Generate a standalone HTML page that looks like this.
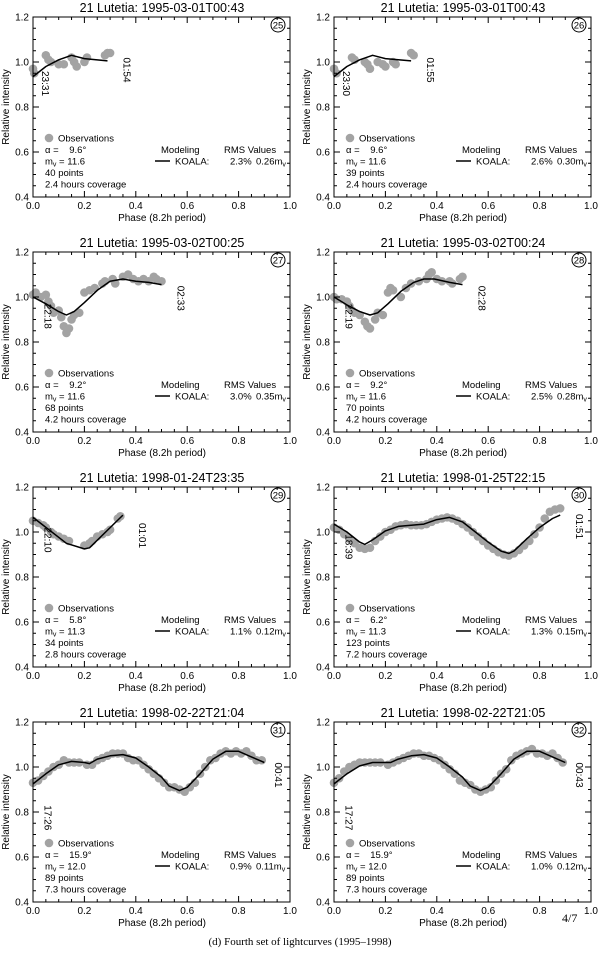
<!DOCTYPE html>
<html><head><meta charset="utf-8"><style>
html,body{margin:0;padding:0;background:#fff}
svg{display:block;font-family:"Liberation Sans",sans-serif}
text{white-space:pre}
</style></head><body>
<svg id="fig" width="600" height="955" viewBox="0 0 600 955" xmlns="http://www.w3.org/2000/svg">
<text x="562" y="922" font-size="12" font-family="Liberation Serif, serif">4/7</text>
<text x="300" y="945" font-size="11" text-anchor="middle" font-family="Liberation Serif, serif">(d) Fourth set of lightcurves (1995–1998)</text>
</svg>
<script>
const panelIds=[25,26,27,28,29,30,31,32];
const titles=["21 Lutetia: 1995-03-01T00:43","21 Lutetia: 1995-03-01T00:43","21 Lutetia: 1995-03-02T00:25","21 Lutetia: 1995-03-02T00:24","21 Lutetia: 1998-01-24T23:35","21 Lutetia: 1998-01-25T22:15","21 Lutetia: 1998-02-22T21:04","21 Lutetia: 1998-02-22T21:05"];
const alphas=["9.6","9.6","9.2","9.2","5.8","6.2","15.9","15.9"];
const mags=["11.6","11.6","11.6","11.6","11.3","11.3","12.0","12.0"];
const npoints=["40","39","68","70","34","123","89","89"];
const coverage=["2.4","2.4","4.2","4.2","2.8","7.2","7.3","7.3"];
const rmsPct=["2.3%","2.6%","3.0%","2.5%","1.1%","1.3%","0.9%","1.0%"];
const rmsMag=["0.26","0.30","0.35","0.28","0.12","0.15","0.11","0.12"];
const startTimes=["23:31","23:30","22:18","22:19","22:10","18:39","17:26","17:27"];
const endTimes=["01:54","01:55","02:33","02:28","01:01","01:51","00:41","00:43"];
const startLabelPhase=[0.02,0.02,0.03,0.03,0.03,0.03,0.03,0.03];
const startLabelTop=[0.96,0.96,0.97,0.97,1.02,0.99,0.83,0.83];
const endLabelPhase=[0.34,0.35,0.55,0.55,0.40,0.93,0.93,0.93];
const endLabelTop=[1.02,1.02,1.05,1.05,1.04,1.08,1.02,1.02];

const obsPhase=[
[0,0.005,0.05,0.06,0.07,0.10,0.12,0.15,0.16,0.17,0.20,0.21,0.28,0.29,0.30],
[0,0.01,0.07,0.08,0.12,0.13,0.14,0.17,0.19,0.20,0.23,0.24,0.30,0.31],
[0,0.01,0.03,0.05,0.06,0.07,0.08,0.10,0.11,0.12,0.13,0.14,0.15,0.16,0.18,0.20,0.22,0.24,0.27,0.28,0.31,0.32,0.35,0.37,0.39,0.41,0.43,0.45,0.47,0.48,0.50],
[0,0.01,0.03,0.05,0.06,0.07,0.08,0.10,0.12,0.13,0.14,0.16,0.17,0.19,0.21,0.22,0.23,0.26,0.28,0.30,0.33,0.36,0.37,0.38,0.40,0.42,0.45,0.46,0.49,0.50],
[0,0.02,0.04,0.05,0.07,0.08,0.10,0.12,0.14,0.20,0.22,0.23,0.25,0.27,0.29,0.30,0.33,0.34],
[0,0.02,0.04,0.06,0.08,0.10,0.12,0.14,0.16,0.18,0.20,0.22,0.24,0.26,0.28,0.30,0.32,0.34,0.36,0.38,0.40,0.42,0.44,0.46,0.48,0.50,0.52,0.54,0.56,0.58,0.60,0.62,0.64,0.66,0.68,0.70,0.72,0.74,0.76,0.78,0.80,0.82,0.84,0.86,0.88],
[0,0.02,0.04,0.06,0.08,0.10,0.12,0.14,0.16,0.18,0.21,0.23,0.25,0.27,0.29,0.31,0.33,0.35,0.37,0.39,0.41,0.43,0.45,0.47,0.49,0.51,0.53,0.55,0.57,0.59,0.61,0.63,0.65,0.67,0.69,0.71,0.73,0.75,0.77,0.79,0.81,0.83,0.85,0.87,0.89],
[0,0.02,0.04,0.06,0.08,0.10,0.12,0.14,0.16,0.18,0.21,0.23,0.25,0.27,0.29,0.31,0.33,0.35,0.37,0.39,0.41,0.43,0.45,0.47,0.49,0.51,0.53,0.55,0.57,0.59,0.61,0.63,0.65,0.67,0.69,0.71,0.73,0.75,0.77,0.79,0.81,0.83,0.85,0.87,0.89]
];
const obsValue=[
[0.97,0.95,1.03,1.01,1.00,0.99,0.99,1.02,1.00,0.98,1.00,1.02,1.03,1.04,1.04],
[0.97,0.95,1.02,1.01,1.00,0.99,0.97,1.00,0.99,0.98,1.00,0.99,1.04,1.03],
[1.01,1.02,1.00,1.01,0.98,0.96,0.93,0.94,0.91,0.87,0.84,0.86,0.90,0.92,0.93,1.02,1.03,1.04,1.06,1.07,1.08,1.06,1.09,1.10,1.08,1.07,1.08,1.07,1.09,1.08,1.07],
[1.00,0.99,0.99,0.98,0.96,0.94,0.93,0.92,0.89,0.87,0.86,0.90,0.93,0.92,1.02,1.04,1.03,1.00,1.04,1.06,1.07,1.08,1.10,1.11,1.08,1.07,1.07,1.06,1.08,1.09],
[1.05,1.04,1.03,1.02,1.00,0.99,0.98,0.97,0.96,0.94,0.95,0.96,0.98,0.99,1.00,1.01,1.06,1.07],
[1.02,1.01,0.99,0.97,0.95,0.93,0.925,0.93,0.96,0.98,1.00,1.01,1.025,1.03,1.035,1.03,1.03,1.03,1.035,1.045,1.055,1.06,1.065,1.06,1.05,1.035,1.02,1.00,0.98,0.96,0.94,0.925,0.91,0.90,0.895,0.905,0.92,0.94,0.96,0.99,1.02,1.06,1.09,1.10,1.105],
[0.93,0.94,0.96,0.98,1.00,1.01,1.03,1.02,1.02,1.02,1.01,1.01,1.03,1.04,1.05,1.06,1.06,1.06,1.04,1.03,1.03,1.01,0.99,0.97,0.95,0.93,0.91,0.91,0.90,0.89,0.91,0.93,0.97,1.00,1.03,1.04,1.06,1.07,1.06,1.07,1.06,1.07,1.05,1.03,1.03],
[0.93,0.95,0.98,1.00,1.01,1.02,1.02,1.02,1.02,1.02,1.01,1.02,1.03,1.04,1.05,1.06,1.06,1.05,1.05,1.04,1.03,1.01,0.99,0.97,0.94,0.93,0.92,0.90,0.89,0.90,0.91,0.94,0.97,0.99,1.03,1.05,1.06,1.07,1.08,1.06,1.06,1.05,1.06,1.04,1.02]
];
const modelPhase=[
[0,0.05,0.10,0.15,0.20,0.29],
[0,0.05,0.10,0.15,0.20,0.30],
[0,0.05,0.10,0.13,0.16,0.20,0.25,0.30,0.35,0.40,0.45,0.50],
[0,0.05,0.10,0.14,0.17,0.21,0.26,0.31,0.35,0.39,0.45,0.50],
[0,0.13,0.20,0.22,0.35],
[0,0.05,0.10,0.12,0.15,0.20,0.25,0.30,0.35,0.40,0.45,0.50,0.55,0.60,0.65,0.68,0.70,0.75,0.80,0.85,0.88],
[0,0.05,0.10,0.15,0.20,0.22,0.25,0.30,0.35,0.40,0.45,0.50,0.53,0.57,0.60,0.65,0.70,0.75,0.80,0.85,0.90],
[0,0.05,0.10,0.15,0.20,0.22,0.25,0.30,0.35,0.40,0.45,0.50,0.53,0.57,0.60,0.65,0.70,0.75,0.80,0.85,0.90]
];
const modelValue=[
[0.935,0.98,1.01,1.03,1.015,1.005],
[0.935,0.98,1.01,1.03,1.015,1.005],
[1.00,0.97,0.935,0.92,0.935,0.975,1.03,1.07,1.08,1.07,1.065,1.055],
[1.00,0.965,0.935,0.92,0.93,0.97,1.025,1.065,1.08,1.08,1.065,1.055],
[1.065,0.95,0.925,0.93,1.075],
[1.035,1.00,0.955,0.945,0.965,1.005,1.025,1.03,1.035,1.055,1.065,1.045,1.00,0.955,0.915,0.905,0.915,0.97,1.02,1.06,1.075],
[0.925,0.97,1.01,1.025,1.02,1.015,1.035,1.05,1.055,1.04,1.00,0.955,0.915,0.895,0.91,0.97,1.035,1.07,1.07,1.045,1.02],
[0.925,0.97,1.005,1.02,1.02,1.02,1.035,1.05,1.055,1.04,1.00,0.955,0.915,0.895,0.91,0.97,1.035,1.07,1.07,1.045,1.02]
];
const xTickLabels=["0.0","0.2","0.4","0.6","0.8","1.0"];
const yTickLabels=["0.4","0.6","0.8","1.0","1.2"];

const NS="http://www.w3.org/2000/svg";
const svg=document.getElementById('fig');
function mk(tag,attrs,parent){const e=document.createElementNS(NS,tag);for(const k in attrs)e.setAttribute(k,attrs[k]);parent.appendChild(e);return e;}

panelIds.forEach((id,i)=>{
  const ox=(i%2)*300+(i%2?1:0), oy=Math.floor(i/2)*235;
  const L=ox+33,R=ox+290,T=oy+17,B=oy+197;
  const xs=p=>L+p*(R-L);
  const ys=v=>B-(v-0.4)/0.8*(B-T);
  const g=mk('g',{},svg);
  
  
  const t=mk('text',{x:ox+162,y:oy+12,'font-size':12.5,'text-anchor':'middle'},g);
  t.textContent=titles[i];
  
  
  const og=mk('g',{fill:'#a3a3a3'},g);
  
  
  obsPhase[i].forEach((p,j)=>{
    const c=mk('circle',{cx:xs(p),cy:ys(obsValue[i][j]),r:4.3},og);
    
    
  });
  const pts=modelPhase[i].map((p,j)=>xs(p).toFixed(1)+','+ys(modelValue[i][j]).toFixed(1)).join(' ');
  const ml=mk('polyline',{points:pts,fill:'none',stroke:'#000','stroke-width':1.5,'stroke-linejoin':'round'},g);
  
  
  const fr=mk('rect',{x:L,y:T,width:R-L,height:B-T,fill:'none',stroke:'#000','stroke-width':1},g);
  
  
  let d='';
  for(let k=0;k<=20;k++){const x=xs(k*0.05),len=k%4===0?6:3;d+=`M${x},${B}v${-len}M${x},${T}v${len}`;}
  for(let k=0;k<=16;k++){const y=ys(0.4+k*0.05),len=k%4===0?6:3;d+=`M${L},${y}h${len}M${R},${y}h${-len}`;}
  const tk=mk('path',{d:d,stroke:'#000','stroke-width':1},g);
  
  
  xTickLabels.forEach((s,k)=>{
    const e=mk('text',{x:xs(k*0.2),y:B+12,'font-size':10,'text-anchor':'middle'},g);e.textContent=s;
    
    
  });
  yTickLabels.forEach((s,k)=>{
    const e=mk('text',{x:L-4,y:ys(0.4+k*0.2)+3.5,'font-size':10,'text-anchor':'end'},g);e.textContent=s;
    
    
  });
  const xt=mk('text',{x:ox+162,y:B+24,'font-size':10,'text-anchor':'middle'},g);xt.textContent='Phase (8.2h period)';
  
  
  const yt=mk('text',{x:0,y:0,'font-size':10,'text-anchor':'middle',transform:`translate(${ox+9},${oy+107}) rotate(-90)`},g);yt.textContent='Relative intensity';
  
  
  const cc=mk('circle',{cx:ox+278,cy:oy+25,r:7,fill:'none',stroke:'#000','stroke-width':1},g);
  
  
  const cn=mk('text',{x:ox+278,y:oy+28.5,'font-size':9.5,'text-anchor':'middle'},g);cn.textContent=id;
  
  
  const st=mk('text',{x:0,y:0,'font-size':10,transform:`translate(${xs(startLabelPhase[i])+4},${ys(startLabelTop[i])}) rotate(90)`},g);st.textContent=startTimes[i];
  
  
  const et=mk('text',{x:0,y:0,'font-size':10,transform:`translate(${xs(endLabelPhase[i])+3},${ys(endLabelTop[i])}) rotate(90)`},g);et.textContent=endTimes[i];
  
  
  const lg=mk('g',{'font-size':9.5},g);
  
  
  mk('circle',{cx:ox+49,cy:oy+138,r:4.3,fill:'#a3a3a3'},lg);
  const o1=mk('text',{x:ox+58,y:oy+141.5},lg);o1.textContent='Observations';
  const o2=mk('text',{x:ox+45,y:oy+153},lg);o2.textContent='α =    '+alphas[i]+'°';
  const mv=mk('text',{x:ox+45,y:oy+164.5},lg);mv.textContent='m';
  const sub=document.createElementNS(NS,'tspan');sub.setAttribute('font-size',7);sub.setAttribute('dy',2);sub.textContent='v';mv.appendChild(sub);
  const rest=document.createElementNS(NS,'tspan');rest.setAttribute('dy',-2);rest.textContent=' = '+mags[i];mv.appendChild(rest);
  const o4=mk('text',{x:ox+45,y:oy+176},lg);o4.textContent=npoints[i]+' points';
  const o5=mk('text',{x:ox+45,y:oy+187.5},lg);o5.textContent=coverage[i]+' hours coverage';
  const m1=mk('text',{x:ox+161,y:oy+153},lg);m1.textContent='Modeling';
  const m2=mk('text',{x:ox+224,y:oy+153},lg);m2.textContent='RMS Values';
  mk('line',{x1:ox+155,x2:ox+170,y1:oy+161,y2:oy+161,stroke:'#000','stroke-width':1.5},lg);
  const k1=mk('text',{x:ox+175,y:oy+164.5},lg);k1.textContent='KOALA:';
  const k2=mk('text',{x:ox+230,y:oy+164.5},lg);k2.textContent=rmsPct[i];
  const k3=mk('text',{x:ox+256,y:oy+164.5},lg);k3.textContent=rmsMag[i]+'m';
  const s2=document.createElementNS(NS,'tspan');s2.setAttribute('font-size',7);s2.setAttribute('dy',2);s2.textContent='v';k3.appendChild(s2);
});
</script>
</body></html>
